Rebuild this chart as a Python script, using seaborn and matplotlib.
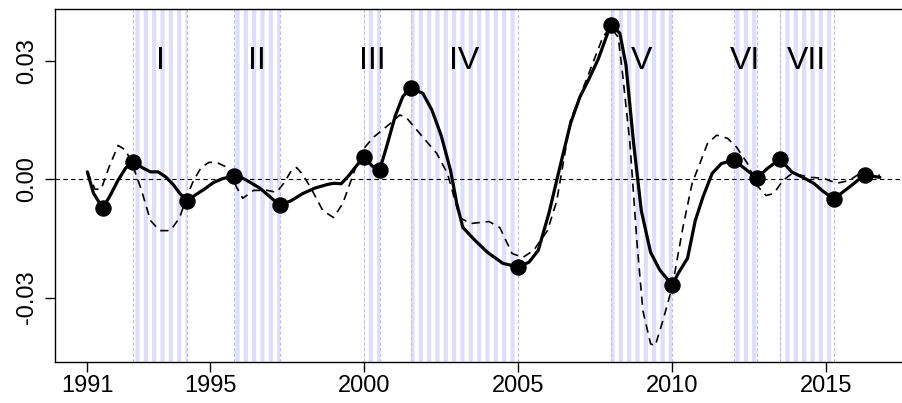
import numpy as np
import pandas as pd
import seaborn as sns
import matplotlib
matplotlib.use("Agg")
import matplotlib.pyplot as plt

# %%
# data
solid_year = [1991.00, 1991.20, 1991.50, 1991.75, 1992.00, 1992.25, 1992.50, 1992.80, 1993.05,
              1993.30, 1993.55, 1993.80, 1994.00, 1994.25, 1994.50, 1994.80, 1995.10, 1995.40,
              1995.75, 1996.00, 1996.30, 1996.60, 1996.90, 1997.25, 1997.60, 1998.00, 1998.40,
              1998.80, 1999.00, 1999.25, 1999.50, 1999.75, 2000.00, 2000.25, 2000.50, 2000.75,
              2001.00, 2001.25, 2001.50, 2001.90, 2002.20, 2002.50, 2002.80, 2003.00, 2003.20,
              2003.60, 2004.00, 2004.50, 2005.00, 2005.35, 2005.65, 2006.00, 2006.35, 2006.70,
              2007.00, 2007.30, 2007.60, 2008.00, 2008.30, 2008.50, 2008.75, 2009.00, 2009.30,
              2009.60, 2010.00, 2010.20, 2010.50, 2010.75, 2011.00, 2011.30, 2011.60, 2012.00,
              2012.40, 2012.75, 2013.10, 2013.50, 2013.90, 2014.25, 2014.60, 2014.90, 2015.25,
              2015.75, 2016.25, 2016.50, 2016.75]
solid_val = [0.0019, -0.0035, -0.0073, -0.0040, -0.0002, 0.0029, 0.0044, 0.0029, 0.0019,
             0.0019, 0.0006, -0.0014, -0.0035, -0.0055, -0.0040, -0.0025, -0.0008, 0.0002,
             0.0008, 0.0005, -0.0008, -0.0022, -0.0042, -0.0065, -0.0055, -0.0036, -0.0022,
             -0.0013, -0.0010, -0.0011, 0.0010, 0.0035, 0.0057, 0.0034, 0.0024, 0.0090,
             0.0160, 0.0210, 0.0232, 0.0218, 0.0175, 0.0110, 0.0023, -0.0060, -0.0122,
             -0.0155, -0.0185, -0.0213, -0.0222, -0.0210, -0.0180, -0.0085, 0.0030, 0.0142,
             0.0208, 0.0255, 0.0305, 0.0391, 0.0371, 0.0290, 0.0090, -0.0080, -0.0185,
             -0.0230, -0.0268, -0.0238, -0.0200, -0.0105, -0.0045, 0.0015, 0.0040, 0.0049,
             0.0025, 0.0003, 0.0028, 0.0051, 0.0018, 0.0005, -0.0010, -0.0030, -0.0050,
             -0.0020, 0.0011, 0.0008, 0.0005]

dash_year = [1991.00, 1991.25, 1991.45, 1991.70, 1992.00, 1992.25, 1992.50, 1992.75, 1993.05,
             1993.35, 1993.70, 1994.00, 1994.25, 1994.45, 1994.70, 1994.95, 1995.20, 1995.55,
             1995.85, 1996.05, 1996.40, 1996.85, 1997.15, 1997.40, 1997.65, 1997.80, 1998.00,
             1998.25, 1998.65, 1999.00, 1999.30, 1999.65, 1999.85, 2000.30, 2000.85, 2001.15,
             2001.35, 2001.90, 2002.35, 2002.70, 2003.10, 2003.45, 2004.05, 2004.40, 2004.80,
             2005.15, 2005.50, 2005.95, 2006.25, 2006.70, 2007.25, 2007.75, 2008.00, 2008.25,
             2008.40, 2008.63, 2008.86, 2009.05, 2009.30, 2009.45, 2009.70, 2010.00, 2010.35,
             2010.65, 2010.90, 2011.15, 2011.45, 2011.80, 2012.10, 2012.45, 2012.75, 2013.05,
             2013.30, 2013.60, 2013.90, 2014.50, 2014.90, 2015.35, 2015.75, 2016.10, 2016.75]
dash_val = [0.0019, -0.0025, -0.0025, 0.0030, 0.0086, 0.0074, 0.0030, -0.0025, -0.0104,
            -0.0130, -0.0130, -0.0097, -0.0040, -0.0003, 0.0030, 0.0043, 0.0043, 0.0030,
            -0.0020, -0.0048, -0.0028, -0.0028, -0.0033, -0.0008, 0.0025, 0.0030, 0.0012,
            -0.0020, -0.0079, -0.0097, -0.0061, 0.0015, 0.0066, 0.0107, 0.0142, 0.0163,
            0.0158, 0.0107, 0.0066, 0.0015, -0.0097, -0.0112, -0.0107, -0.0122, -0.0188,
            -0.0198, -0.0180, -0.0130, -0.0055, 0.0150, 0.0260, 0.0361, 0.0386, 0.0360,
            0.0260, 0.0091, -0.0163, -0.0333, -0.0417, -0.0422, -0.0358, -0.0274, -0.0122,
            -0.0010, 0.0040, 0.0091, 0.0112, 0.0104, 0.0081, 0.0040, -0.0015, -0.0041,
            -0.0036, -0.0003, 0.0015, 0.0005, 0.0003, -0.0010, -0.0003, 0.0015, 0.0010]

# turning points (dots)
tp_year = [1991.50, 1992.50, 1994.25, 1995.75, 1997.25, 2000.00, 2000.50, 2001.50,
           2005.00, 2008.00, 2010.00, 2012.00, 2012.75, 2013.50, 2015.25, 2016.25]
tp_val = [-0.0073, 0.0044, -0.0055, 0.0008, -0.0065, 0.0057, 0.0024, 0.0232,
          -0.0222, 0.0391, -0.0268, 0.0049, 0.0003, 0.0051, -0.0050, 0.0011]

# shaded phases
reg_start = [1992.50, 1995.75, 2000.00, 2001.50, 2008.00, 2012.00, 2013.50]
reg_end = [1994.25, 1997.25, 2000.50, 2005.00, 2010.00, 2012.75, 2015.25]
reg_label = ["I", "II", "III", "IV", "V", "VI", "VII"]

x_ticks = [1991, 1995, 2000, 2005, 2010, 2015]
y_ticks = [-0.03, 0.0, 0.03]
y_ticklabels = ["-0.03", "0.00", "0.03"]

# %%
sns.set_style("ticks", {'text.color': 'black', 'xtick.color': 'black',
                        'ytick.color': 'black', 'axes.edgecolor': 'black'})
plt.rcParams['font.family'] = ['Liberation Sans', 'DejaVu Sans']
plt.rcParams['hatch.linewidth'] = 3.0

df_solid = pd.DataFrame({'year': solid_year, 'val': solid_val})
df_dash = pd.DataFrame({'year': dash_year, 'val': dash_val})
df_tp = pd.DataFrame({'year': tp_year, 'val': tp_val})

fig = plt.figure(figsize=(9.03, 4.03), dpi=100)
ax = fig.add_axes([55/903, 41.3/403, 856.6/903, 352.4/403])

stripe = '#dedefc'
for s, e, lab in zip(reg_start, reg_end, reg_label):
    ax.axvspan(s, e, facecolor='none', edgecolor=stripe, hatch='||', linewidth=0, zorder=0)
    for b in (s, e):
        ax.axvline(b, color='#bcbcf0', lw=0.8, linestyle=(0, (3, 2)), zorder=0.5)
    ax.text((s + e) / 2, 0.030, lab, ha='center', va='center', fontsize=23,
            color='black', zorder=3)

ax.axhline(0, color='black', lw=0.8, linestyle=(0, (4, 3)), zorder=1)

sns.lineplot(data=df_dash, x='year', y='val', sort=False, estimator=None, ax=ax,
             color='black', lw=1.2, linestyle=(0, (5, 3.5)), zorder=2)
sns.lineplot(data=df_solid, x='year', y='val', sort=False, estimator=None, ax=ax,
             color='black', lw=2.3, zorder=3)
sns.scatterplot(data=df_tp, x='year', y='val', ax=ax, color='black', s=120,
                edgecolor='black', zorder=4)

ax.set_xlim(1989.95, 2017.78)
ax.set_ylim(-0.04623, 0.04311)
ax.set_xticks(x_ticks)
ax.set_yticks(y_ticks)
ax.set_yticklabels(y_ticklabels, rotation=90, va='center')
ax.set_xlabel('')
ax.set_ylabel('')
ax.tick_params(axis='both', length=7, width=1, labelsize=17, color='black',
               labelcolor='black')
ax.tick_params(axis='x', pad=2.5)
ax.tick_params(axis='y', pad=5)
for sp in ax.spines.values():
    sp.set_linewidth(1)
    sp.set_color('black')

fig.savefig('out.png', dpi=100)
